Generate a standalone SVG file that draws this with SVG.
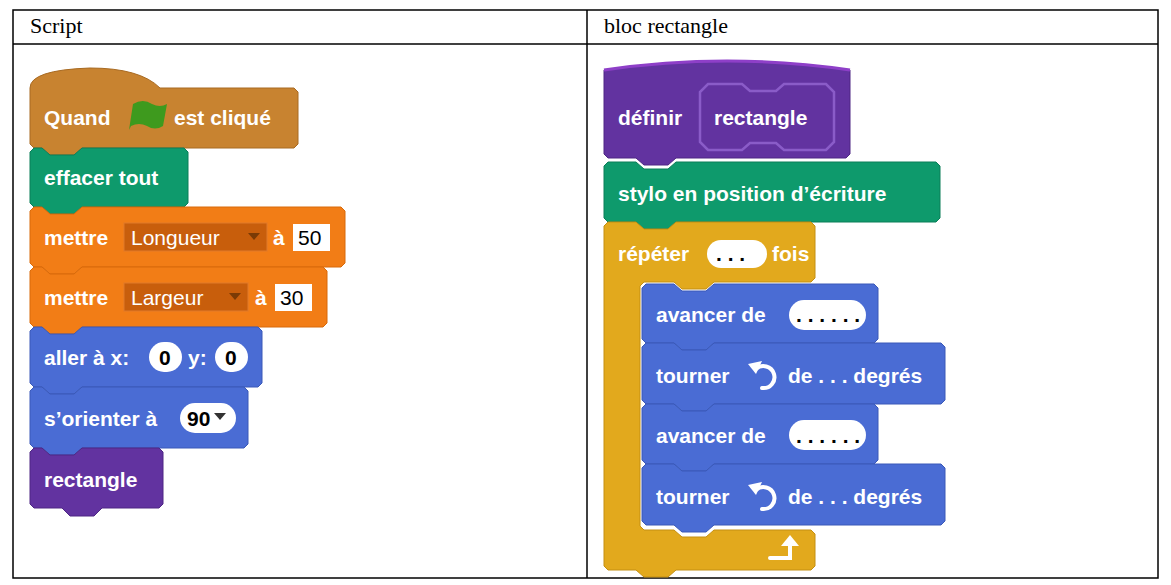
<svg xmlns="http://www.w3.org/2000/svg" width="1171" height="585" viewBox="0 0 1171 585">
<style>
.t{font-family:"Liberation Sans",Arial,sans-serif;font-weight:bold;font-size:21px;fill:#fff}
.n{font-family:"Liberation Sans",Arial,sans-serif;font-size:21px;fill:#000}
.d{font-family:"Liberation Sans",Arial,sans-serif;font-size:21px;fill:#fff}
.h{font-family:"Liberation Serif","Times New Roman",serif;font-size:22px;fill:#000}
.ev{fill:#C88330;stroke:#A86A22;stroke-width:1}
.pen{fill:#0E9A6C;stroke:#0B7F59;stroke-width:1}
.var{fill:#F27D16;stroke:#D86A0A;stroke-width:1}
.mo{fill:#4A6CD4;stroke:#3A59B8;stroke-width:1}
.my{fill:#6233A0;stroke:#4E2784;stroke-width:1}
.ct{fill:#E2A91D;stroke:#C48F12;stroke-width:1}
.ov{fill:#fff}
.ic{fill:none;stroke:#fff;stroke-width:4;stroke-linecap:round}
</style>
<rect x="0" y="0" width="1171" height="585" fill="#fff"/>
<g id="table" fill="none" stroke="#000" stroke-width="1.5">
<rect x="13" y="10" width="1145" height="568"/>
<line x1="13" y1="44" x2="1158" y2="44"/>
<line x1="587" y1="10" x2="587" y2="578"/>
</g>
<text class="h" x="30" y="33">Script</text>
<text class="h" x="604" y="33">bloc rectangle</text>

<g id="quand">
<path class="ev" d="M30,88 Q30,70 90,68 Q140,68 160,88 L294,88 L298,92 L298,144 L294,148 L82,148 L74,155 L50,155 L42,148 L34,148 L30,144 Z"/>
<text class="t" x="44" y="125">Quand</text>
<path d="M129,130 L133,104 Q143,98 152,104 Q160,108 167,104 L163,126 Q155,131 147,126 Q139,122 131,126 Z" fill="#3E9A1E"/>
<text class="t" x="174" y="125">est cliqué</text>
</g>
<g id="effacer">
<path class="pen" d="M34,148 L42,148 L50,155 L74,155 L82,148 L184,148 L188,152 L188,203 L184,207 L82,207 L74,214 L50,214 L42,207 L34,207 L30,203 L30,152 Z"/>
<text class="t" x="44" y="185">effacer tout</text>
</g>
<g id="mettre1">
<path class="var" d="M34,207 L42,207 L50,214 L74,214 L82,207 L341,207 L345,211 L345,263 L341,267 L82,267 L74,274 L50,274 L42,267 L34,267 L30,263 L30,211 Z"/>
<text class="t" x="44" y="245">mettre</text>
<rect x="124" y="223" width="143" height="28" fill="#C85E0C" stroke="#E07A2A"/>
<text class="d" x="131" y="245">Longueur</text>
<path d="M248,233 L260,233 L254,240 Z" fill="#7a3a05"/>
<text class="t" x="273" y="245">à</text>
<rect x="293" y="224" width="37" height="27" fill="#fff"/>
<text class="n" x="298" y="245">50</text>
</g>
<g id="mettre2">
<path class="var" d="M34,267 L42,267 L50,274 L74,274 L82,267 L323,267 L327,271 L327,323 L323,327 L82,327 L74,334 L50,334 L42,327 L34,327 L30,323 L30,271 Z"/>
<text class="t" x="44" y="305">mettre</text>
<rect x="124" y="283" width="124" height="28" fill="#C85E0C" stroke="#E07A2A"/>
<text class="d" x="131" y="305">Largeur</text>
<path d="M229,293 L241,293 L235,300 Z" fill="#7a3a05"/>
<text class="t" x="255" y="305">à</text>
<rect x="275" y="284" width="37" height="27" fill="#fff"/>
<text class="n" x="280" y="305">30</text>
</g>
<g id="aller">
<path class="mo" d="M34,327 L42,327 L50,334 L74,334 L82,327 L258,327 L262,331 L262,383 L258,387 L82,387 L74,394 L50,394 L42,387 L34,387 L30,383 L30,331 Z"/>
<text class="t" x="44" y="365">aller à x:</text>
<rect x="149" y="342" width="33" height="30" rx="15" class="ov"/>
<text class="n" x="159" y="365" style="font-weight:bold">0</text>
<text class="t" x="188" y="365">y:</text>
<rect x="215" y="342" width="33" height="30" rx="15" class="ov"/>
<text class="n" x="225" y="365" style="font-weight:bold">0</text>
</g>
<g id="orienter">
<path class="mo" d="M34,387 L42,387 L50,394 L74,394 L82,387 L244,387 L248,391 L248,444 L244,448 L82,448 L74,455 L50,455 L42,448 L34,448 L30,444 L30,391 Z"/>
<text class="t" x="44" y="426">s’orienter à</text>
<rect x="180" y="403" width="56" height="30" rx="15" class="ov"/>
<text class="n" x="187" y="426" style="font-weight:bold">90</text>
<path d="M214,413 L226,413 L220,420 Z" fill="#333"/>
</g>
<g id="rectangle">
<path class="my" d="M34,448 L42,448 L50,455 L74,455 L82,448 L159,448 L163,452 L163,504 L159,508 L102,508 L94,516 L70,516 L62,508 L34,508 L30,504 L30,452 Z"/>
<text class="t" x="44" y="487">rectangle</text>
</g>

<g id="definir">
<path class="my" d="M604,70 Q727,52 850,70 L850,154 L846,158 L676,158 L668,165 L644,165 L636,158 L608,158 L604,154 Z"/>
<path d="M604,70 Q727,52 850,70" fill="none" stroke="#8E3FC8" stroke-width="3"/>
<path d="M708,84 L742,84 L750,91 L776,91 L784,84 L826,84 L834,92 L834,142 L826,150 L784,150 L776,143 L750,143 L742,150 L708,150 L700,142 L700,92 Z" fill="none" stroke="#8A5CC8" stroke-width="2.5"/>
<text class="t" x="618" y="125">définir</text>
<text class="t" x="714" y="125">rectangle</text>
</g>
<g id="stylo">
<path class="pen" d="M608,162 L636,162 L644,169 L668,169 L676,162 L936,162 L940,166 L940,218 L936,222 L676,222 L668,229 L644,229 L636,222 L608,222 L604,218 L604,166 Z"/>
<text class="t" x="618" y="201">stylo en position d’écriture</text>
</g>
<g id="repeter">
<path class="ct" d="M608,222 L636,222 L644,229 L668,229 L676,222 L811,222 L815,226 L815,278 L811,282 L714,282 L706,289 L682,289 L674,282 L644,282 L640,286 L640,526 L644,530 L674,530 L682,537 L706,537 L714,530 L811,530 L815,534 L815,566 L811,570 L676,570 L668,577 L644,577 L636,570 L608,570 L604,566 L604,226 Z"/>
<text class="t" x="618" y="261">répéter</text>
<rect x="707" y="240" width="60" height="28" rx="14" class="ov"/>
<text class="n" x="716" y="261" style="font-weight:bold">. . .</text>
<text class="t" x="772" y="261">fois</text>
<path class="ic" d="M770,558 L790,558 L790,545"/>
<path d="M781,546 L790,535 L799,546 Z" fill="#fff"/>
</g>
<g id="avancer1">
<path class="mo" d="M646,284 L674,284 L682,291 L706,291 L714,284 L874,284 L878,288 L878,339 L874,343 L714,343 L706,350 L682,350 L674,343 L646,343 L642,339 L642,288 Z"/>
<text class="t" x="656" y="322">avancer de</text>
<rect x="789" y="300" width="77" height="30" rx="15" class="ov"/>
<text class="n" x="796" y="322" style="font-weight:bold">. . . . . .</text>
</g>
<g id="tourner1">
<path class="mo" d="M646,343 L674,343 L682,350 L706,350 L714,343 L941,343 L945,347 L945,400 L941,404 L714,404 L706,411 L682,411 L674,404 L646,404 L642,400 L642,347 Z"/>
<text class="t" x="656" y="383">tourner</text>
<path class="ic" d="M756,369 A11,11 0 1 1 762,388"/>
<path d="M748,364 L762,361 L756,374 Z" fill="#fff"/>
<text class="t" x="788" y="383">de . . . degrés</text>
</g>
<g id="avancer2">
<path class="mo" d="M646,404 L674,404 L682,411 L706,411 L714,404 L874,404 L878,408 L878,460 L874,464 L714,464 L706,471 L682,471 L674,464 L646,464 L642,460 L642,408 Z"/>
<text class="t" x="656" y="443">avancer de</text>
<rect x="789" y="420" width="77" height="30" rx="15" class="ov"/>
<text class="n" x="796" y="443" style="font-weight:bold">. . . . . .</text>
</g>
<g id="tourner2">
<path class="mo" d="M646,464 L674,464 L682,471 L706,471 L714,464 L941,464 L945,468 L945,521 L941,525 L714,525 L706,532 L682,532 L674,525 L646,525 L642,521 L642,468 Z"/>
<text class="t" x="656" y="504">tourner</text>
<path class="ic" d="M756,490 A11,11 0 1 1 762,509"/>
<path d="M748,485 L762,482 L756,495 Z" fill="#fff"/>
<text class="t" x="788" y="504">de . . . degrés</text>
</g>
<g id="connectors"/>
</svg>
